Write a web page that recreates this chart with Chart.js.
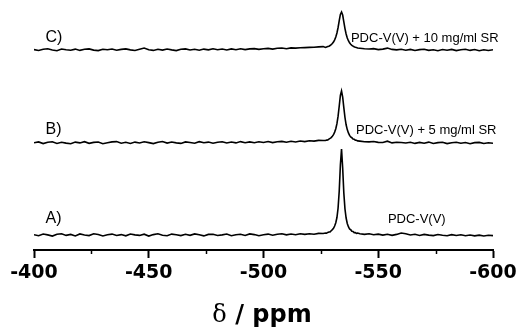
<!DOCTYPE html>
<html lang="en">
<head>
    <meta charset="UTF-8">
    <title>V-51 NMR spectra</title>
    <script src="https://cdn.jsdelivr.net/npm/chart.js@4.4.0/dist/chart.umd.min.js"></script>
    <style>
      body { margin: 0; background: #fff; }
    </style>
</head>
<body>
    <canvas id="nmr-chart" width="518" height="328"></canvas>
    <script>
      // chemical shift grid (ppm), denser around the peak
      const shifts = [
        -400, -402, -404, -406, -408, -410, -412, -414, -416, -418,
        -420, -422, -424, -426, -428, -430, -432, -434, -436, -438,
        -440, -442, -444, -446, -448, -450, -452, -454, -456, -458,
        -460, -462, -464, -466, -468, -470, -472, -474, -476, -478,
        -480, -482, -484, -486, -488, -490, -492, -494, -496, -498,
        -500, -502, -504, -506, -508, -510, -512, -514, -516, -518,
        -520, -522, -524, -526,
        -527, -527.5, -528, -528.5, -529, -529.5, -530, -530.5, -531, -531.5,
        -532, -532.5, -533, -533.5, -534, -534.5, -535, -535.5, -536, -536.5,
        -537, -537.5, -538, -538.5, -539, -539.5, -540, -540.5, -541,
        -542, -544, -546, -548, -550, -552, -554, -556, -558, -560,
        -562, -564, -566, -568, -570, -572, -574, -576, -578, -580,
        -582, -584, -586, -588, -590, -592, -594, -596, -598, -600
      ];

      // A) PDC-V(V)
      const specA = [
        0.3, -0.7, 1.0, 0.1, -1.1, 0.8, 1.3, -0.4, 0.6, -0.9,
        1.1, 0.0, -0.6, 1.2, 0.5, -1.0, 0.3, 0.9, -0.5, 0.4,
        -0.8, 1.0, 0.1, -0.4, 0.8, -1.1, 0.4, 1.2, -0.2, -0.7,
        0.9, 0.3, -0.6, 0.7, -0.3, 1.1, 0.2, -0.9, 0.6, 0.8,
        -0.5, 0.1, 1.0, -0.7, 0.3, 0.8, -0.4, 1.1, 0.4, -0.8,
        0.2, 0.9, -0.3, 0.7, 1.2, 0.1, 1.0, 0.2, 1.3, 0.6,
        1.3, 0.8, 1.6, 1.5,
        2.0, 1.8, 2.6, 3.0, 3.1, 4.3, 5.4, 6.6, 9.0, 12.3,
        17.5, 27, 44, 70, 86, 67, 42, 26, 17, 11.5,
        8.3, 6.0, 5.3, 3.7, 3.5, 2.4, 2.5, 1.7, 1.9,
        1.2, 0.6, 1.2, 0.2, 0.9, -0.1, 0.7, -0.4, 0.6, 2.0,
        1.2, 0.0, 0.7, -0.5, 0.6, -0.1, -0.6, 0.5, -0.2, -0.7,
        0.4, -0.5, 0.3, -0.8, 0.0, -0.9, -0.1, -1.0, -0.2, -0.6
      ];

      // B) PDC-V(V) + 5 mg/ml SR
      const specB = [
        0.2, 1.1, -0.6, 0.7, 1.2, -0.4, 0.8, -0.1, -0.8, 0.9,
        0.1, 1.3, -0.3, 0.6, 1.0, -0.7, 0.2, 1.1, 1.4, -0.2,
        0.7, -0.5, 0.9, 0.0, 1.2, 0.4, -0.6, 0.8, 1.5, -0.1,
        1.0, 0.1, -0.4, 1.1, 0.5, -0.2, 1.3, 0.2, 0.9, -0.3,
        0.8, 1.2, 0.0, 1.0, 0.1, 1.4, 0.3, 1.1, 0.2, 1.3,
        0.5, 1.5, 0.4, 1.2, 1.6, 0.7, 1.7, 1.0, 2.0, 1.4,
        2.2, 1.9, 2.6, 2.5,
        2.5, 2.9, 3.0, 3.9, 4.6, 5.4, 6.8, 8.3, 10.9, 14.2,
        19.3, 26.8, 37, 47.5, 52, 46, 35.4, 25.5, 18.2, 13.4,
        10.1, 7.6, 6.0, 5.3, 4.0, 3.8, 2.8, 2.7, 2.1,
        1.9, 1.3, 1.1, 1.5, 0.6, 0.5, 1.8, 0.1, 0.8, 0.5,
        0.0, 0.8, -0.4, 0.6, -0.2, 0.9, -0.5, 0.4, 0.7, -0.6,
        0.3, 0.8, -0.3, 0.5, -0.7, 0.4, 0.6, -0.5, 0.3, -0.2
      ];

      // C) PDC-V(V) + 10 mg/ml SR
      const specC = [
        0.4, -0.5, 0.8, 1.2, 0.0, -0.7, 1.0, 0.3, -0.2, 0.9,
        -0.4, 0.7, 1.1, -0.1, -0.6, 0.8, 0.2, 1.0, -0.3, 0.6,
        1.1, 0.1, -0.5, 0.7, 2.0, 0.2, -0.4, 0.8, -0.1, 1.0,
        0.1, -0.6, 0.7, 1.1, 0.0, 0.8, -0.3, 0.9, 0.1, 1.2,
        0.2, 1.0, 0.0, 1.1, 0.3, 1.3, 0.4, 1.1, 1.4, 0.6,
        1.3, 1.6, 0.9, 1.7, 2.0, 1.3, 2.1, 1.9, 2.2, 2.4,
        2.6, 2.8, 3.1, 3.4,
        2.6, 3.0, 3.4, 3.8, 4.5, 5.4, 6.5, 8.0, 10.2, 13.0,
        17.0, 22.5, 29.3, 35.6, 38, 35.0, 28.2, 21.4, 16.0, 12.0,
        9.3, 7.2, 5.8, 4.6, 3.9, 3.2, 2.7, 2.5, 2.0,
        1.8, 1.2, 1.0, 1.4, 0.4, 0.9, 1.9, 0.6, 0.1, 0.8,
        -0.2, 0.6, -0.5, 0.4, 0.7, -0.4, 0.3, -0.7, 0.5, -0.3,
        0.6, -0.6, 0.2, 0.8, -0.4, 0.5, -0.7, 0.3, -0.5, 0.2
      ];

      const spectra = [specA, specB, specC];
      const offsets = [15, 107, 200];     // vertical stacking of the traces
      const traceNames = ['A)', 'B)', 'C)'];
      const sampleNames = ['PDC-V(V)', 'PDC-V(V) + 5 mg/ml SR', 'PDC-V(V) + 10 mg/ml SR'];
      const minorTicks = [-425, -475, -525, -575];

      const datasets = spectra.map((spec, i) => ({
        label: sampleNames[i],
        data: spec.map((v, j) => ({ x: shifts[j], y: v + offsets[i] })),
        borderColor: '#000',
        borderWidth: 1.6,
        pointRadius: 0,
        tension: 0,
        fill: false
      }));

      // where the text labels sit, in ppm / intensity units
      const labelSpots = [
        { text: traceNames[0], x: -405, y: 31, font: '16px "Liberation Sans"' },
        { text: traceNames[1], x: -405, y: 120, font: '16px "Liberation Sans"' },
        { text: traceNames[2], x: -405, y: 212, font: '16px "Liberation Sans"' },
        { text: sampleNames[0], x: -554.2, y: 31, font: '13px "Liberation Sans"' },
        { text: sampleNames[1], x: -540.3, y: 120, font: '13px "Liberation Sans"' },
        { text: sampleNames[2], x: -538.1, y: 212, font: '13px "Liberation Sans"' }
      ];

      const extras = {
        id: 'extras',
        afterDraw(chart) {
          const c = chart.ctx;
          const xs = chart.scales.x;
          const ys = chart.scales.y;
          c.save();
          c.fillStyle = '#000';
          c.textBaseline = 'middle';
          c.textAlign = 'left';
          labelSpots.forEach(l => {
            c.font = l.font;
            c.fillText(l.text, xs.getPixelForValue(l.x), ys.getPixelForValue(l.y));
          });

          // minor ticks
          c.strokeStyle = '#000';
          c.lineWidth = 1.5;
          const b = chart.chartArea.bottom;
          minorTicks.forEach(t => {
            const px = Math.round(xs.getPixelForValue(t)) + 0.5;
            c.beginPath();
            c.moveTo(px, b);
            c.lineTo(px, b + 4);
            c.stroke();
          });

          // axis title: serif delta + bold sans rest
          const part1 = '\u03b4';
          const part2 = ' / ppm';
          const f1 = '24px "DejaVu Serif"';
          const f2 = 'bold 24px "DejaVu Sans"';
          c.font = f1;
          const w1 = c.measureText(part1).width;
          c.font = f2;
          const w2 = c.measureText(part2).width;
          let x0 = 262 - (w1 + w2) / 2;
          c.textBaseline = 'alphabetic';
          c.font = f1;
          c.fillText(part1, x0, 322);
          c.font = f2;
          c.fillText(part2, x0 + w1, 322);
          c.restore();
        }
      };

      const ctx = document.getElementById('nmr-chart').getContext('2d');
      const chart = new Chart(ctx, {
        type: 'line',
        data: { datasets: datasets },
        options: {
          responsive: false,
          animation: false,
          layout: { padding: { left: 34, right: 25, top: 0, bottom: 0 } },
          plugins: {
            legend: { display: false },
            tooltip: { enabled: false }
          },
          scales: {
            x: {
              type: 'linear',
              min: -600,
              max: -400,
              reverse: true,
              afterFit: (scale) => {
                scale.height = 78;
                scale.paddingLeft = 0;
                scale.paddingRight = 0;
              },
              border: { display: true, color: '#000', width: 2 },
              grid: {
                drawOnChartArea: false,
                drawTicks: true,
                tickLength: 8,
                tickWidth: 2,
                tickColor: '#000'
              },
              ticks: {
                stepSize: 50,
                padding: 4,
                color: '#000',
                font: { family: 'DejaVu Sans', size: 19, weight: 'bold' },
                maxRotation: 0
              }
            },
            y: {
              display: false,
              min: 0,
              max: 250
            }
          }
        },
        plugins: [extras]
      });
    </script>
</body>
</html>
